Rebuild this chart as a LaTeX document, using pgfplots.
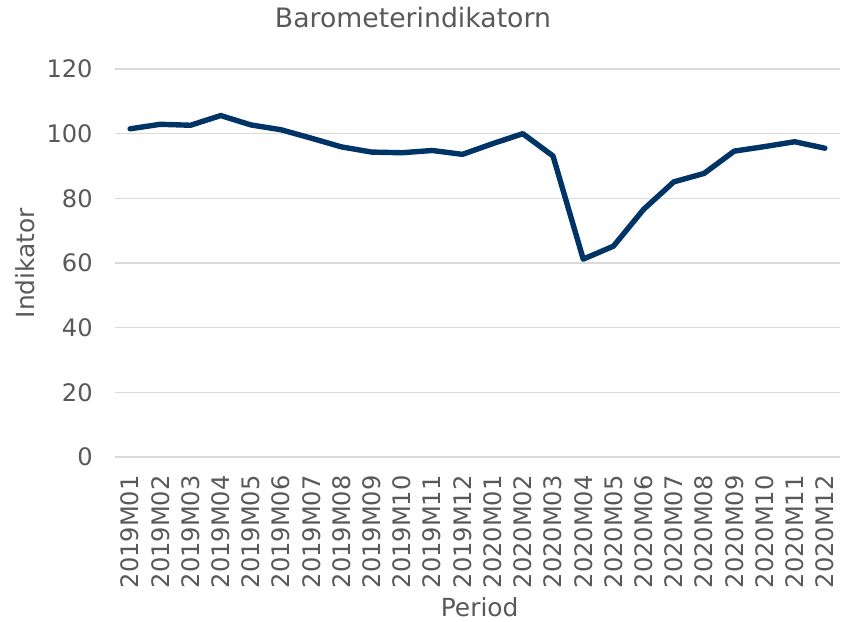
\documentclass[border=0pt]{standalone}
\usepackage{pgfplots}
\pgfplotsset{compat=1.18}
\usepackage{fontspec}
\setmainfont{DejaVu Sans}

\definecolor{linecol}{HTML}{003366}
\definecolor{txtcol}{HTML}{595959}
\definecolor{gridcol}{HTML}{D9D9D9}

\pgfplotstableread{
idx val
0  101.5
1  102.9
2  102.6
3  105.6
4  102.7
5  101.2
6  98.6
7  95.9
8  94.3
9  94.1
10 94.8
11 93.6
12 96.9
13 100.0
14 93.1
15 61.2
16 65.2
17 76.6
18 85.1
19 87.7
20 94.6
21 96.0
22 97.5
23 95.5
}\barometer

\begin{document}
\begin{tikzpicture}
\path[use as bounding box] (-57.5bp,-82.5bp) rectangle (365bp,228.5bp);
\begin{axis}[
    at={(0,0)}, anchor=south west,
    scale only axis,
    width=362.5bp,
    height=194bp,
    xmin=-0.5, xmax=23.5,
    ymin=0, ymax=120,
    ytick={0,20,...,120},
    xtick={0,...,23},
    xticklabels={2019M01,2019M02,2019M03,2019M04,2019M05,2019M06,2019M07,2019M08,2019M09,2019M10,2019M11,2019M12,
                 2020M01,2020M02,2020M03,2020M04,2020M05,2020M06,2020M07,2020M08,2020M09,2020M10,2020M11,2020M12},
    ymajorgrids,
    grid style={gridcol, line width=0.75bp},
    axis line style={draw=none},
    major tick length=0pt,
    tick style={draw=none},
    /pgf/number format/assume math mode=true,
    ticklabel style={font=\fontsize{12.1}{14}\selectfont, text=txtcol},
    yticklabel style={anchor=east, inner sep=0pt, xshift=-11bp},
    xticklabel style={rotate=90, anchor=east, inner sep=0pt},
    xticklabel shift=9bp,
    label style={font=\fontsize{12.5}{15}\selectfont, text=txtcol},
    ylabel={Indikator},
    ylabel style={at={(axis description cs:-0.124,0.5)}, anchor=center, rotate=0},
    xlabel={Period},
    xlabel style={at={(axis description cs:0.503,-0.387)}, anchor=center},
    title={Barometerindikatorn},
    every axis title/.style={at={(axis description cs:0.411,1.106)}, anchor=base,
                 font=\fontsize{13.4}{15}\selectfont, text=txtcol},
    clip=false,
]
\addplot[linecol, line width=2.7bp, line join=round, line cap=round] table[x=idx, y=val] {\barometer};
\end{axis}
\end{tikzpicture}
\end{document}
